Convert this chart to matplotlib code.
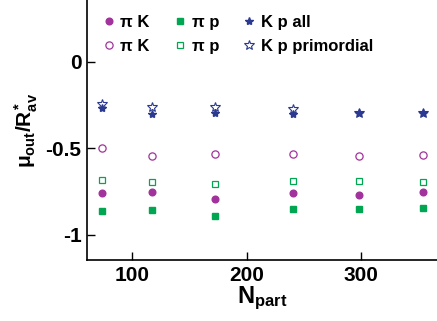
import matplotlib
matplotlib.use("Agg")
import matplotlib.pyplot as plt

plt.rcParams['font.family'] = ['Liberation Sans', 'DejaVu Sans']
plt.rcParams['mathtext.fontset'] = 'custom'
plt.rcParams['mathtext.rm'] = 'Liberation Sans:bold'
plt.rcParams['mathtext.bf'] = 'Liberation Sans:bold'
plt.rcParams['mathtext.it'] = 'Liberation Sans:bold'

# Npart positions
npart = [74, 117, 172, 240, 298, 354]

# filled = all, open = primordial
pik_all = [-0.759, -0.749, -0.792, -0.757, -0.769, -0.753]
pip_all = [-0.859, -0.857, -0.888, -0.850, -0.850, -0.844]
kp_all = [-0.264, -0.302, -0.293, -0.302, -0.293, -0.293]
pik_prim = [-0.499, -0.543, -0.532, -0.534, -0.543, -0.538]
pip_prim = [-0.682, -0.692, -0.705, -0.688, -0.688, -0.696]
kp_prim = [-0.245, -0.258, -0.258, -0.274, -0.293, -0.293]

purple = '#a2329c'
green = '#00a651'
navy = '#2b3990'

fig = plt.figure(figsize=(4.37, 3.21), dpi=100)
ax = fig.add_axes([0.199, 0.19, 0.801, 0.81])

# legend is filled column by column, so plot order = pairs per column
ax.plot(npart, pik_all, 'o', color=purple, ms=4.8, ls='none', label='π K')
ax.plot(npart, pik_prim, 'o', mfc='none', mec=purple, mew=0.9, ms=5.2, ls='none', label='π K')
ax.plot(npart, pip_all, 's', color=green, ms=4.5, ls='none', label='π p')
ax.plot(npart, pip_prim, 's', mfc='none', mec=green, mew=0.9, ms=5, ls='none', label='π p')
ax.plot(npart, kp_all, '*', color=navy, ms=6, ls='none', label='K p all')
ax.plot(npart, kp_prim, '*', mfc='none', mec=navy, mew=0.8, ms=7, ls='none', label='K p primordial')

ax.set_xlim(60.7, 366)
ax.set_ylim(-1.145, 0.358)
ax.set_xticks([100, 200, 300])
ax.set_yticks([-1, -0.5, 0])
ax.set_yticklabels(['-1', '-0.5', '0'])
ax.tick_params(direction='in', length=6, width=1, labelsize=15, pad=4)
for lab in ax.get_xticklabels() + ax.get_yticklabels():
    lab.set_fontweight('bold')
ax.spines['top'].set_visible(False)
ax.spines['right'].set_visible(False)
ax.spines['left'].set_linewidth(1.2)
ax.spines['bottom'].set_linewidth(1.2)

ax.set_xlabel(r'$\mathbf{N_{part}}$', fontsize=17, labelpad=0)
ax.set_ylabel(r'$\mu_{out}/R^{*}_{av}$', fontsize=15, labelpad=4)

leg = ax.legend(ncol=3, loc='upper left', bbox_to_anchor=(-0.009, 1.0), frameon=False,
                prop={'weight': 'bold', 'size': 12}, handletextpad=0.1,
                columnspacing=1.2, handlelength=1.2, labelspacing=0.55)

fig.savefig('out.png', dpi=100)
